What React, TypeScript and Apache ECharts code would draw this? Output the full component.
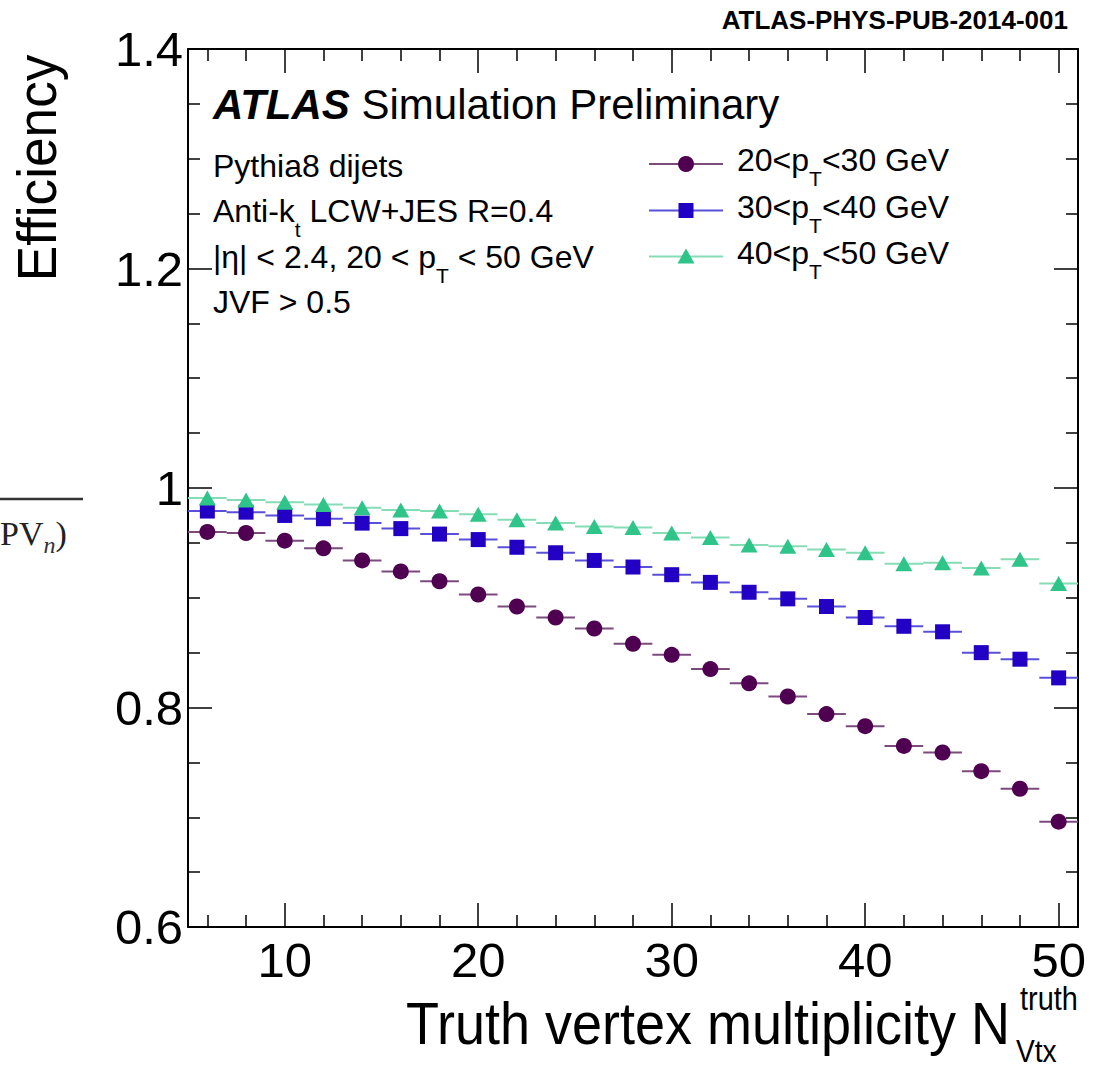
import React, { useEffect, useRef } from 'react';
import * as echarts from 'echarts';

const FONT = '"Liberation Sans", Arial, Helvetica, sans-serif';
const SERIF = '"Liberation Serif", "DejaVu Serif", serif';

// Data
const nVtx = [6, 8, 10, 12, 14, 16, 18, 20, 22, 24, 26, 28, 30, 32, 34, 36, 38, 40, 42, 44, 46, 48, 50];
const eff20to30 = [0.960, 0.959, 0.952, 0.945, 0.934, 0.924, 0.915, 0.903, 0.892, 0.882, 0.872, 0.858, 0.848, 0.835, 0.822, 0.810, 0.794, 0.783, 0.765, 0.759, 0.742, 0.726, 0.696];
const eff30to40 = [0.979, 0.978, 0.975, 0.972, 0.968, 0.963, 0.958, 0.953, 0.946, 0.941, 0.934, 0.928, 0.921, 0.914, 0.905, 0.899, 0.892, 0.882, 0.874, 0.869, 0.850, 0.844, 0.827];
const eff40to50 = [0.991, 0.989, 0.987, 0.985, 0.982, 0.980, 0.979, 0.976, 0.971, 0.968, 0.965, 0.964, 0.959, 0.955, 0.948, 0.947, 0.944, 0.941, 0.931, 0.932, 0.927, 0.935, 0.913];
const binHalfWidth = 1;

const seriesNames = ['20<pT<30 GeV', '30<pT<40 GeV', '40<pT<50 GeV'];
const legendLabels = ['{a|20<p}{s|T}{a|<30 GeV}', '{a|30<p}{s|T}{a|<40 GeV}', '{a|40<p}{s|T}{a|<50 GeV}'];

const xMajorTicks = [10, 20, 30, 40, 50];
const xMinorTicks = [6, 8, 12, 14, 16, 18, 22, 24, 26, 28, 32, 34, 36, 38, 42, 44, 46, 48];

const markerColors = ['#4f0050', '#2200c4', '#2fc48a'];
const barColors = ['#7d4a7d', '#5a4fd8', '#86dcb5'];
const symbols = ['circle', 'rect', 'triangle'];
const symbolSizes: any[] = [16, 15, [17, 15]];

function buildOption() {
  const sets = [eff20to30, eff30to40, eff40to50];
  const series: any[] = [];
  sets.forEach((vals, i) => {
    const data = nVtx.map((x, k) => [x, vals[k]]);
    series.push({
      type: 'custom',
      name: seriesNames[i] + ' err',
      xAxisIndex: 0,
      yAxisIndex: 0,
      data,
      encode: { x: 0, y: 1 },
      z: 2,
      renderItem: (params: any, api: any) => {
        const x = api.value(0);
        const y = api.value(1);
        const p1 = api.coord([x - binHalfWidth, y]);
        const p2 = api.coord([x + binHalfWidth, y]);
        return {
          type: 'line',
          shape: { x1: p1[0], y1: p1[1], x2: p2[0], y2: p2[1] },
          style: { stroke: barColors[i], lineWidth: 2 },
        };
      },
    });
    series.push({
      type: 'scatter',
      name: seriesNames[i],
      xAxisIndex: 0,
      yAxisIndex: 0,
      data,
      symbol: symbols[i],
      symbolSize: symbolSizes[i],
      itemStyle: { color: markerColors[i], opacity: 1 },
      z: 3,
    });
  });

  const tickStyle = { color: '#000', width: 1.5 };
  const axisLine = { show: true, onZero: false, lineStyle: { color: '#000', width: 2 } };
  const xBase = { type: 'value', min: 5, max: 51, splitLine: { show: false }, offset: 0 };

  const xAxis = [
    {
      ...xBase, position: 'bottom', axisLine,
      axisTick: { show: true, inside: true, length: 24, lineStyle: tickStyle, customValues: xMajorTicks },
      axisLabel: { show: true, customValues: xMajorTicks, fontSize: 49, fontFamily: FONT, color: '#000', margin: 8 },
    },
    {
      ...xBase, position: 'bottom', axisLine: { show: false },
      axisTick: { show: true, inside: true, length: 12, lineStyle: tickStyle, customValues: xMinorTicks },
      axisLabel: { show: false },
    },
    {
      ...xBase, position: 'top', axisLine,
      axisTick: { show: true, inside: true, length: 24, lineStyle: tickStyle, customValues: xMajorTicks },
      axisLabel: { show: false },
    },
    {
      ...xBase, position: 'top', axisLine: { show: false },
      axisTick: { show: true, inside: true, length: 12, lineStyle: tickStyle, customValues: xMinorTicks },
      axisLabel: { show: false },
    },
  ];

  const yBase = {
    type: 'value', min: 0.6, max: 1.4, interval: 0.2, splitLine: { show: false }, axisLine,
    axisTick: { show: true, inside: true, length: 24, lineStyle: tickStyle },
    minorTick: { show: true, splitNumber: 4, length: 12, lineStyle: tickStyle },
    minorSplitLine: { show: false },
  };
  const yAxis = [
    {
      ...yBase, position: 'left',
      axisLabel: {
        show: true, fontSize: 49, fontFamily: FONT, color: '#000', margin: 5, padding: [8, 0, 0, 0],
        formatter: (v: number) => String(Math.round(v * 10) / 10),
      },
    },
    { ...yBase, position: 'right', axisLabel: { show: false } },
  ];

  const infoRich = {
    a: { fontSize: 32, fontFamily: FONT, fill: '#000', lineHeight: 58 },
    s: { fontSize: 21, fontFamily: FONT, fill: '#000', verticalAlign: 'bottom' },
  };

  const graphic: any[] = [
    {
      type: 'text', x: 1068, y: 20,
      style: { text: 'ATLAS-PHYS-PUB-2014-001', fontSize: 26, fontWeight: 'bold', fontFamily: FONT, fill: '#000', align: 'right', verticalAlign: 'middle' },
    },
    {
      type: 'text', x: 37, y: 168, rotation: Math.PI / 2, scaleX: 0.95,
      style: { text: 'Efficiency', fontSize: 56, fontFamily: FONT, fill: '#000', align: 'center', verticalAlign: 'middle' },
    },
    {
      type: 'text', x: 1010, y: 1023, scaleX: 0.9,
      style: { text: 'Truth vertex multiplicity N', fontSize: 60, fontFamily: FONT, fill: '#000', align: 'right', verticalAlign: 'middle' },
    },
    {
      type: 'text', x: 1020, y: 998, scaleX: 0.85,
      style: { text: 'truth', fontSize: 34, fontFamily: FONT, fill: '#000', align: 'left', verticalAlign: 'middle' },
    },
    {
      type: 'text', x: 1016, y: 1051, scaleX: 0.88,
      style: { text: 'Vtx', fontSize: 32, fontFamily: FONT, fill: '#000', align: 'left', verticalAlign: 'middle' },
    },
    {
      type: 'text', x: 213, y: 104,
      style: {
        text: '{b|ATLAS}{n| Simulation Preliminary}', align: 'left', verticalAlign: 'middle',
        rich: {
          b: { fontSize: 42, fontWeight: 'bold', fontStyle: 'italic', fontFamily: FONT, fill: '#000' },
          n: { fontSize: 42, fontFamily: FONT, fill: '#000' },
        },
      },
    },
    { type: 'text', x: 213, y: 166, style: { text: '{a|Pythia8 dijets}', align: 'left', verticalAlign: 'middle', rich: infoRich } },
    { type: 'text', x: 213, y: 211, style: { text: '{a|Anti-k}{s|t}{a| LCW+JES R=0.4}', align: 'left', verticalAlign: 'middle', rich: infoRich } },
    { type: 'text', x: 213, y: 257, style: { text: '{a||η| < 2.4, 20 < p}{s|T}{a| < 50 GeV}', align: 'left', verticalAlign: 'middle', rich: infoRich } },
    { type: 'text', x: 213, y: 302, style: { text: '{a|JVF > 0.5}', align: 'left', verticalAlign: 'middle', rich: infoRich } },
    // fragment of neighbouring slide at the left edge
    { type: 'line', shape: { x1: 0, y1: 499, x2: 83, y2: 499 }, style: { stroke: '#333', lineWidth: 2.5 } },
    {
      type: 'text', x: 0, y: 533,
      style: {
        text: '{a|PV}{i|n}{a|)}', align: 'left', verticalAlign: 'middle',
        rich: {
          a: { fontSize: 34, fontFamily: SERIF, fill: '#222', lineHeight: 48 },
          i: { fontSize: 24, fontFamily: SERIF, fontStyle: 'italic', fill: '#333', verticalAlign: 'bottom' },
        },
      },
    },
  ];

  // legend
  const legendY = [164, 210.5, 256.5];
  legendY.forEach((ly, i) => {
    graphic.push({ type: 'line', shape: { x1: 649, y1: ly, x2: 723, y2: ly }, style: { stroke: barColors[i], lineWidth: 2 } });
    if (i === 0) graphic.push({ type: 'circle', shape: { cx: 686, cy: ly, r: 8 }, style: { fill: markerColors[i] } });
    if (i === 1) graphic.push({ type: 'rect', shape: { x: 678.5, y: ly - 7.5, width: 15, height: 15 }, style: { fill: markerColors[i] } });
    if (i === 2) graphic.push({ type: 'polygon', shape: { points: [[686, ly - 8], [694.5, ly + 7], [677.5, ly + 7]] }, style: { fill: markerColors[i] } });
    graphic.push({
      type: 'text', x: 737, y: ly - 4,
      style: { text: legendLabels[i], align: 'left', verticalAlign: 'middle', rich: infoRich },
    });
  });

  return {
    animation: false,
    backgroundColor: '#fff',
    grid: { left: 188, right: 17, top: 49, bottom: 143, containLabel: false },
    xAxis,
    yAxis,
    series,
    graphic,
  };
}

export default function App() {
  const ref = useRef<HTMLDivElement>(null);
  useEffect(() => {
    const chart = echarts.init(ref.current!, null, { renderer: 'svg' });
    chart.setOption(buildOption() as any);
    return () => chart.dispose();
  }, []);
  return (
    <div
      ref={ref}
      style={{ position: 'absolute', left: 0, top: 0, width: 1095, height: 1070, background: '#fff' }}
    />
  );
}
